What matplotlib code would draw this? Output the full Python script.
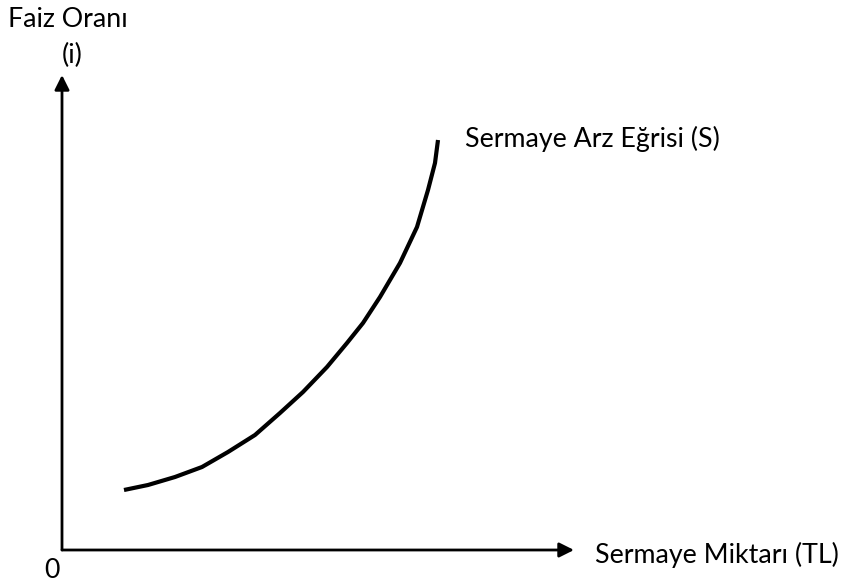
import matplotlib.pyplot as plt

plt.rcParams['font.family'] = ['Lato', 'DejaVu Sans']

# supply curve (capital quantity, interest rate), origin at the axes corner
quantity = [62, 86, 113, 140, 166, 193, 218, 241, 265, 285, 301, 318, 338, 355, 366, 373, 376]
rate = [60, 65, 73, 83, 98, 115, 137, 158, 183, 207, 227, 253, 287, 323, 360, 387, 410]

x_label = "Sermaye Miktarı (TL)"
y_label = "Faiz Oranı"
y_symbol = "(i)"
curve_label = "Sermaye Arz Eğrisi (S)"

fig = plt.figure(figsize=(8.44, 5.84), dpi=100)
ax = fig.add_axes([0, 0, 1, 1])
ax.set_xlim(-62, 782)
ax.set_ylim(-34, 550)
ax.axis('off')

# axes with arrow heads
arrow = dict(arrowstyle='-|>', lw=2, color='black', mutation_scale=22, shrinkA=0, shrinkB=0)
ax.annotate('', xy=(0, 475), xytext=(0, 0), arrowprops=arrow)
ax.annotate('', xy=(512, 0), xytext=(0, 0), arrowprops=arrow)

ax.plot(quantity, rate, color='black', lw=3, solid_capstyle='butt', solid_joinstyle='round')

fs = 19.3
ax.text(-54, 523, y_label, fontsize=fs, ha='left', va='baseline')
ax.text(10, 487, y_symbol, fontsize=fs, ha='center', va='baseline')
ax.text(-10, -21, "0", fontsize=fs, ha='center', va='center')
ax.text(403, 403, curve_label, fontsize=fs, ha='left', va='baseline')
ax.text(533, -13, x_label, fontsize=fs, ha='left', va='baseline')

fig.savefig('out.png', dpi=100, facecolor='white')
